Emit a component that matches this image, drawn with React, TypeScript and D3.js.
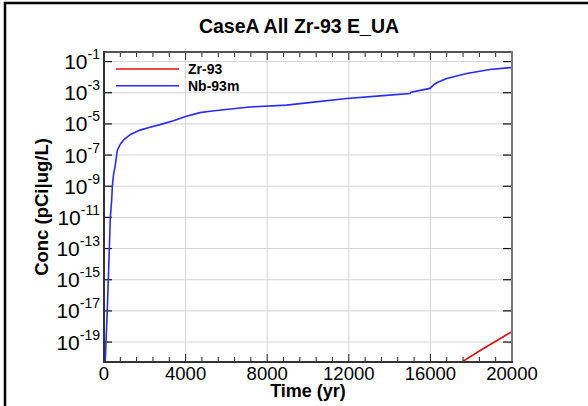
import React from "react";
import * as d3 from "d3";

const title = "CaseA All Zr-93 E_UA";
const xTicks = [0, 4000, 8000, 12000, 16000, 20000];
const yTickExps = [-1, -3, -5, -7, -9, -11, -13, -15, -17, -19];

const nbTime = [40, 98, 160, 211, 260, 309, 377, 407, 470, 539, 652, 800, 980, 1300, 1765, 2300, 2745, 3400, 4000, 4700, 5200, 6200, 7157, 8955, 9608, 11900, 13530, 15000, 15050, 15980, 16200, 16390, 16800, 17780, 18920, 20000];
const nbConc = [1e-21, 1e-19, 1e-17, 1e-15, 8e-14, 1e-11, 1.3e-10, 9e-10, 6e-9, 1.7e-8, 2e-7, 5e-7, 1e-6, 2.1e-6, 4e-6, 6.3e-6, 9e-6, 1.6e-5, 3e-5, 5.3e-5, 6.5e-5, 9e-5, 1.23e-4, 1.6e-4, 2e-4, 4.3e-4, 6.3e-4, 8.9e-4, 1.1e-3, 1.9e-3, 3.5e-3, 4.9e-3, 8.1e-3, 1.7e-2, 3.1e-2, 4.2e-2];

const zrTime = [17400, 18500, 20000];
const zrConc = [4e-21, 3.2e-20, 4.7e-19];

const W = 588, H = 406;
const L = 104, R = 512, T = 52, B = 362;

export default function App() {
  const x = d3.scaleLinear().domain([0, 20000]).range([L, R]);
  const y = d3.scaleLog().domain([Math.pow(10, -20.28), Math.pow(10, -0.385)]).range([B, T]);
  const line = d3.line<[number, number]>().x(d => x(d[0])).y(d => y(d[1]));
  const nb = nbTime.map((t, i) => [t, nbConc[i]] as [number, number]);
  const zr = zrTime.map((t, i) => [t, zrConc[i]] as [number, number]);
  const minor = d3.range(0, 20001, 800);
  const font = "Liberation Sans, Arial, sans-serif";
  return (
    <svg width={W} height={H} style={{ position: "absolute", left: 0, top: 0 }} fontFamily={font}>
      <rect x={0} y={0} width={W} height={H} fill="#fff" />
      <rect x={5} y={3} width={700} height={500} fill="none" stroke="#000" strokeWidth={2.5} />
      <defs>
        <clipPath id="plot"><rect x={L} y={T} width={R - L} height={B - T} /></clipPath>
      </defs>
      <text x={(L + R) / 2 - 9} y={33} textAnchor="middle" fontWeight="bold" fontSize={19.5}>{title}</text>
      {xTicks.slice(1, -1).map(t => (
        <line key={"gx" + t} x1={x(t)} x2={x(t)} y1={T} y2={B} stroke="#d4d4d4" strokeWidth={1} />
      ))}
      {yTickExps.map(e => (
        <line key={"gy" + e} x1={L} x2={R} y1={y(Math.pow(10, e))} y2={y(Math.pow(10, e))} stroke="#d4d4d4" strokeWidth={1} />
      ))}
      {minor.map(t => {
        const major = t % 4000 === 0;
        const len = major ? 8 : 5;
        return (
          <g key={"xt" + t}>
            <line x1={x(t)} x2={x(t)} y1={B} y2={B - len} stroke="#222" strokeWidth={1} />
            <line x1={x(t)} x2={x(t)} y1={T} y2={T + len} stroke="#222" strokeWidth={1} />
          </g>
        );
      })}
      {yTickExps.map(e => (
        <g key={"yt" + e}>
          <line x1={L} x2={L + 8} y1={y(Math.pow(10, e))} y2={y(Math.pow(10, e))} stroke="#111" strokeWidth={1.2} />
          <line x1={R} x2={R - 9} y1={y(Math.pow(10, e))} y2={y(Math.pow(10, e))} stroke="#111" strokeWidth={1.2} />
        </g>
      ))}
      <g clipPath="url(#plot)" fill="none" strokeWidth={1.6}>
        <path d={line(zr) || ""} stroke="#e01010" />
        <path d={line(nb) || ""} stroke="#2a2aff" />
      </g>
      <line x1={L} x2={R} y1={T} y2={T} stroke="#555" strokeWidth={2} />
      <line x1={R} x2={R} y1={T - 1} y2={B + 1} stroke="#777" strokeWidth={2} />
      <line x1={L} x2={L} y1={T - 1} y2={B + 1} stroke="#333" strokeWidth={2} />
      <line x1={L - 1} x2={R + 1} y1={B} y2={B} stroke="#333" strokeWidth={2} />
      {xTicks.map(t => (
        <text key={"xl" + t} x={x(t)} y={380} textAnchor="middle" fontSize={18.5}>{t}</text>
      ))}
      {yTickExps.map(e => (
        <text key={"yl" + e} x={100} y={y(Math.pow(10, e)) + 7.5} textAnchor="end" fontSize={21}>
          10<tspan dy={-10} fontSize={14}>{String(e)}</tspan>
        </text>
      ))}
      <text x={(L + R) / 2} y={397} textAnchor="middle" fontWeight="bold" fontSize={18}>Time (yr)</text>
      <text transform={`translate(48, ${(T + B) / 2}) rotate(-90)`} textAnchor="middle" fontWeight="bold" fontSize={18.5}>Conc (pCi|ug/L)</text>
      <line x1={116} x2={179} y1={69} y2={69} stroke="#e01010" strokeWidth={1.6} />
      <line x1={116} x2={179} y1={85.7} y2={85.7} stroke="#2a2aff" strokeWidth={1.6} />
      <text x={188} y={74} fontWeight="bold" fontSize={14}>Zr-93</text>
      <text x={188} y={90.5} fontWeight="bold" fontSize={14}>Nb-93m</text>
    </svg>
  );
}
